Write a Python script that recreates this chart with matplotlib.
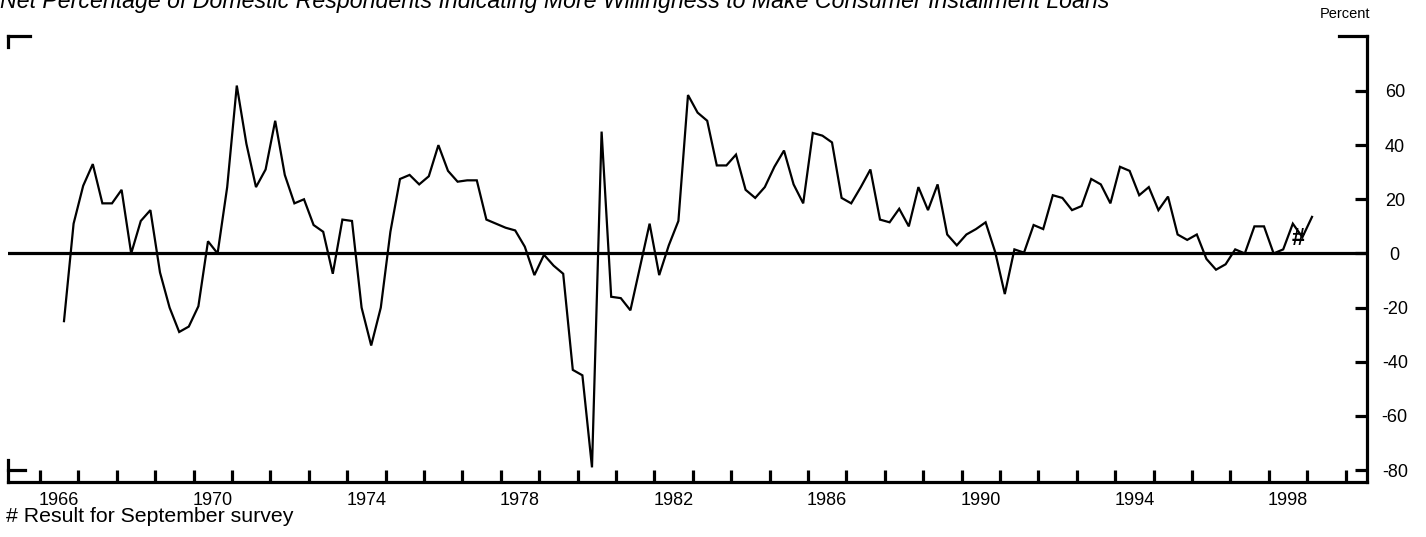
import matplotlib
matplotlib.use("Agg")
import matplotlib.pyplot as plt
from matplotlib.ticker import FixedLocator, NullFormatter

plt.rcParams["font.family"] = ["Liberation Sans", "DejaVu Sans"]
plt.rcParams["axes.unicode_minus"] = False

# Survey dates (year-month) and net percentage of respondents
survey_dates = [
    "1966-08", "1966-11",
    "1967-02", "1967-05", "1967-08", "1967-11",
    "1968-02", "1968-05", "1968-08", "1968-11",
    "1969-02", "1969-05", "1969-08", "1969-11",
    "1970-02", "1970-05", "1970-08", "1970-11",
    "1971-02", "1971-05", "1971-08", "1971-11",
    "1972-02", "1972-05", "1972-08", "1972-11",
    "1973-02", "1973-05", "1973-08", "1973-11",
    "1974-02", "1974-05", "1974-08", "1974-11",
    "1975-02", "1975-05", "1975-08", "1975-11",
    "1976-02", "1976-05", "1976-08", "1976-11",
    "1977-02", "1977-05", "1977-08", "1977-11",
    "1978-02", "1978-05", "1978-08", "1978-11",
    "1979-02", "1979-05", "1979-08", "1979-11",
    "1980-02", "1980-05", "1980-08", "1980-11",
    "1981-02", "1981-05", "1981-08", "1981-11",
    "1982-02", "1982-05", "1982-08", "1982-11",
    "1983-02", "1983-05", "1983-08", "1983-11",
    "1984-02", "1984-05", "1984-08", "1984-11",
    "1985-02", "1985-05", "1985-08", "1985-11",
    "1986-02", "1986-05", "1986-08", "1986-11",
    "1987-02", "1987-05", "1987-08", "1987-11",
    "1988-02", "1988-05", "1988-08", "1988-11",
    "1989-02", "1989-05", "1989-08", "1989-11",
    "1990-02", "1990-05", "1990-08", "1990-11",
    "1991-02", "1991-05", "1991-08", "1991-11",
    "1992-02", "1992-05", "1992-08", "1992-11",
    "1993-02", "1993-05", "1993-08", "1993-11",
    "1994-02", "1994-05", "1994-08", "1994-11",
    "1995-02", "1995-05", "1995-08", "1995-11",
    "1996-02", "1996-05", "1996-08", "1996-11",
    "1997-02", "1997-05", "1997-08", "1997-11",
    "1998-02", "1998-05", "1998-08", "1998-11",
    "1999-02",
]
net_percent = [
    -25, 11,
    25, 33, 18.5, 18.5,
    23.5, 0, 12, 16,
    -7, -20, -29, -27,
    -19.5, 4.5, 0, 24.5,
    62, 40.5, 24.5, 31,
    49, 29, 18.5, 20,
    10.5, 8, -7.5, 12.5,
    12, -20, -34, -20,
    8, 27.5, 29, 25.5,
    28.5, 40, 30.5, 26.5,
    27, 27, 12.5, 11,
    9.5, 8.5, 2.5, -8,
    -0.5, -4.5, -7.5, -43,
    -45, -79, 45, -16,
    -16.5, -21, -5, 11,
    -8, 3, 12, 58.5,
    52, 49, 32.5, 32.5,
    36.5, 23.5, 20.5, 24.5,
    32, 38, 25.5, 18.5,
    44.5, 43.5, 41, 20.5,
    18.5, 24.5, 31, 12.5,
    11.5, 16.5, 10, 24.5,
    16, 25.5, 7, 3,
    7, 9, 11.5, 0.5,
    -15, 1.5, 0.3, 10.5,
    9, 21.5, 20.5, 16,
    17.5, 27.5, 25.5, 18.5,
    32, 30.5, 21.5, 24.5,
    16, 21, 7, 5,
    7, -2, -6, -4,
    1.5, 0, 10, 10,
    0, 1.5, 11, 6,
    13.5,
]
september_date = "1998-11"

year_ticks = list(range(1966, 2001))
year_labels = ["1966", "1970", "1974", "1978", "1982", "1986", "1990", "1994", "1998"]
percent_ticks = [60, 40, 20, 0, -20, -40, -60, -80]

title = ("Net Percentage of Domestic Respondents Indicating More "
         "Willingness to Make Consumer Installment Loans")


def to_year(s):
    y, m = s.split("-")
    return int(y) + (int(m) - 0.5) / 12.0


x = [to_year(d) for d in survey_dates]

W, H = 1426, 537
fig = plt.figure(figsize=(W / 100, H / 100), dpi=100)
L, R, T, B = 8, 1367, 36, 482
ax = fig.add_axes([L / W, 1 - B / H, (R - L) / W, (B - T) / H])

ax.set_xlim(1965.167, 2000.557)
ax.set_ylim(-84.4, 80.3)

lw_frame = 2.3
ax.plot(x, net_percent, color="black", lw=1.6, solid_joinstyle="miter", zorder=3)
ax.axhline(0, color="black", lw=lw_frame, zorder=2)

# September survey marker
sx = to_year(september_date)
sy = net_percent[survey_dates.index(september_date)]
ax.annotate("#", (sx, sy), xytext=(-3, -1), textcoords="offset points",
            ha="center", va="center", fontsize=17, fontweight="bold", zorder=4)

# frame: full right and bottom spines, corner brackets on the left / top
for side in ("left", "top"):
    ax.spines[side].set_visible(False)
for side in ("right", "bottom"):
    ax.spines[side].set_linewidth(lw_frame)

tr = ax.transAxes
def seg(xs, ys):
    ax.plot(xs, ys, transform=tr, color="black", lw=lw_frame,
            clip_on=False, solid_capstyle="projecting", zorder=5)

fx = 1.0 / (R - L)
fy = 1.0 / (B - T)
seg([0, 0], [1, 1 - 11 * fy])
seg([0, 22 * fx], [1, 1])
seg([1 - 28 * fx, 1], [1, 1])
seg([0, 0], [0, 22 * fy])

# right-hand percent axis
ax.yaxis.tick_right()
ax.yaxis.set_major_locator(FixedLocator(percent_ticks))
ax.tick_params(axis="y", which="major", direction="in", length=9, width=lw_frame,
               pad=20, labelsize=13)
for lab in ax.get_yticklabels():
    lab.set_horizontalalignment("center")
ax.plot([0, 17 * fx], [-80, -80], transform=ax.get_yaxis_transform(),
        color="black", lw=lw_frame, clip_on=False, zorder=5)

# year ticks at year boundaries, labels centred within the year
ax.xaxis.set_major_locator(FixedLocator(year_ticks))
ax.xaxis.set_major_formatter(NullFormatter())
ax.xaxis.set_minor_locator(FixedLocator([int(s) + 0.5 for s in year_labels]))
ax.set_xticklabels(year_labels, minor=True)
ax.tick_params(axis="x", which="major", direction="in", length=9, width=lw_frame)
ax.tick_params(axis="x", which="minor", length=0, pad=7, labelsize=13)

fig.text(0 / W, 1 - 8 / H, title, ha="left", va="baseline",
         fontsize=16.7, style="italic")
fig.text(1345 / W, 1 - 14 / H, "Percent", ha="center", va="center", fontsize=10.5)
fig.text(6 / W, 1 - 516 / H, "# Result for September survey", ha="left",
         va="center", fontsize=15.3)

fig.savefig("out.png", dpi=100)
